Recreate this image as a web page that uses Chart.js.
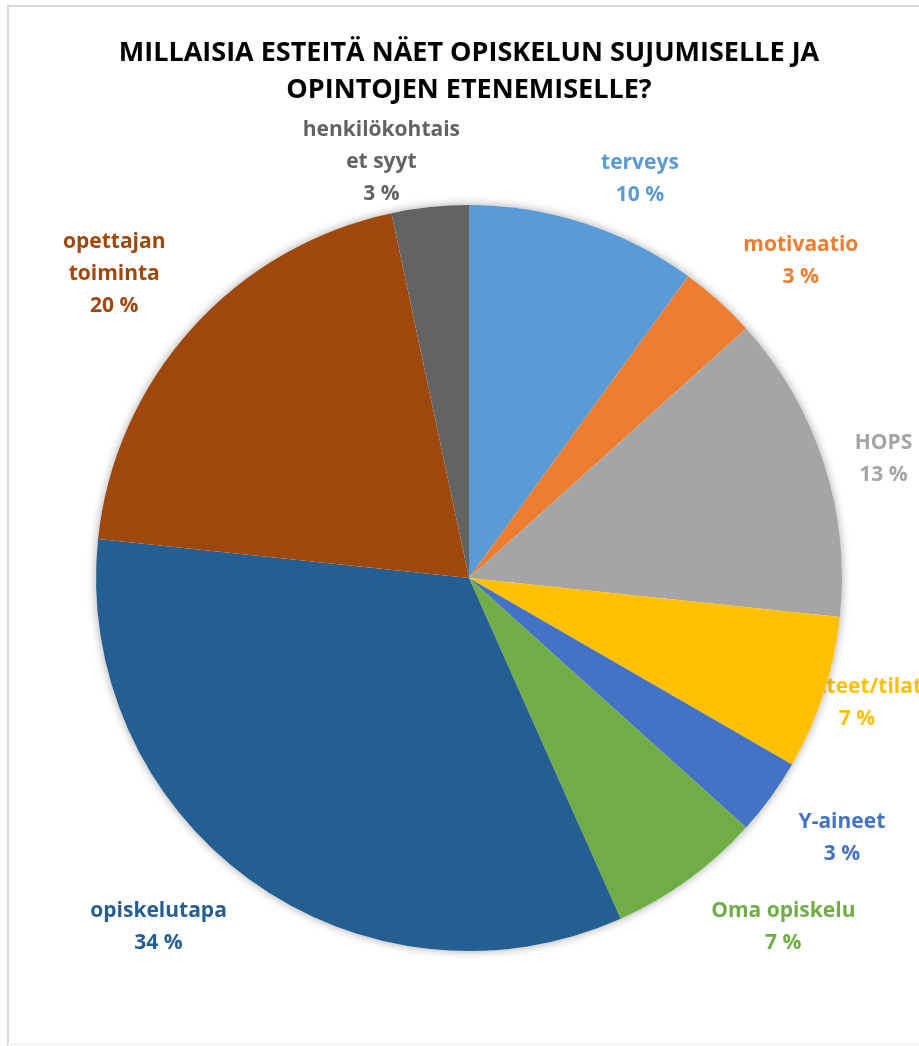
<!DOCTYPE html>
<html><head><meta charset="utf-8">
<script src="https://cdn.jsdelivr.net/npm/chart.js@4/dist/chart.umd.min.js"></script>
<style>html,body{margin:0;padding:0;background:#fff;} canvas{display:block;}</style>
</head><body>
<canvas id="c" width="919" height="1046"></canvas>
<script>
const categories = ['terveys','motivaatio','HOPS','laitteet/tilat','Y-aineet','Oma opiskelu','opiskelutapa','opettajan toiminta','henkilökohtaiset syyt'];
const labelLines = [['terveys'],['motivaatio'],['HOPS'],['laitteet/tilat'],['Y-aineet'],['Oma opiskelu'],['opiskelutapa'],['opettajan','toiminta'],['henkilökohtais','et syyt']];
const values = [3,1,4,2,1,2,10,6,1];
const percentLabels = ['10 %','3 %','13 %','7 %','3 %','7 %','34 %','20 %','3 %'];
const titleLines = ['MILLAISIA ESTEITÄ NÄET OPISKELUN SUJUMISELLE JA','OPINTOJEN ETENEMISELLE?'];
const colors = ['#5B9BD5','#ED7D31','#A5A5A5','#FFC000','#4472C4','#70AD47','#255E91','#9E480E','#636363'];

const frame = {
  id:'frame',
  beforeDraw(chart){
    const ctx = chart.ctx;
    ctx.save();
    ctx.strokeStyle = '#d9d9d9'; ctx.lineWidth = 2;
    ctx.beginPath();
    ctx.moveTo(8, chart.height); ctx.lineTo(8, 6); ctx.lineTo(chart.width, 6);
    ctx.stroke();
    ctx.strokeStyle = '#f3f3f3';
    ctx.beginPath(); ctx.moveTo(8, chart.height-2); ctx.lineTo(chart.width, chart.height-2); ctx.stroke();
    ctx.restore();
  }
};

const outsideLabels = {
  id:'outsideLabels',
  beforeDatasetsDraw(chart, args, opts){
    const ctx = chart.ctx;
    const meta = chart.getDatasetMeta(0);
    const tOpts = chart.options.plugins.title;
    const titleTextBottom = chart.titleBlock.top + tOpts.padding.top + titleLines.length * parseFloat(tOpts.font.lineHeight);
    ctx.save();
    ctx.font = 'bold ' + opts.size + 'px ' + opts.family;
    ctx.textAlign = 'center'; ctx.textBaseline = 'middle';
    meta.data.forEach((arc, i) => {
      const p = arc.getProps(['x','y','startAngle','endAngle','outerRadius'], true);
      const mid = (p.startAngle + p.endAngle) / 2;
      const dx = Math.cos(mid), dy = Math.sin(mid);
      const lines = [...labelLines[i], percentLabels[i]];
      const w = Math.max(...lines.map(l => ctx.measureText(l).width));
      const halfW = w / 2, halfH = (lines.length - 1) * opts.lineHeight / 2 + opts.size * 0.5;
      const fx = Math.min(1, Math.abs(dx) * opts.kx);
      const fy = Math.max(0, Math.min(1, (Math.abs(dy) - opts.deadY) * opts.ky));
      let cx = p.x + dx * (p.outerRadius + opts.gap) + Math.sign(dx) * (halfW + opts.gapX) * fx;
      let cy = p.y + dy * (p.outerRadius + opts.gap) + Math.sign(dy) * halfH * fy + opts.nudgeY;
      cx = Math.min(cx, chart.width + opts.overflow - halfW);
      cy = Math.max(cy, titleTextBottom + opts.titleGap + halfH);
      ctx.fillStyle = colors[i];
      lines.forEach((l, j) => ctx.fillText(l, cx, cy - (lines.length - 1) * opts.lineHeight / 2 + j * opts.lineHeight));
    });
    const a = meta.data[0];
    ctx.beginPath(); ctx.arc(a.x, a.y, a.outerRadius, 0, Math.PI * 2);
    ctx.shadowColor = 'rgba(0,0,0,0.35)'; ctx.shadowBlur = 10; ctx.fillStyle = '#fff'; ctx.fill();
    ctx.restore();
  }
};

new Chart(document.getElementById('c'), {
  type: 'pie',
  data: {
    labels: categories,
    datasets: [{ data: values, backgroundColor: colors, borderWidth: 0, hoverOffset: 0, offset: 0 }]
  },
  options: {
    responsive: false,
    animation: false,
    events: [],
    layout: { padding: { left: 96, right: 77, top: 0, bottom: 95 } },
    plugins: {
      legend: { display: false },
      tooltip: { enabled: false },
      title: {
        display: true, text: titleLines, color: '#000',
        font: { family: "'Open Sans'", size: 27, weight: 'bold', lineHeight: '37px' },
        padding: { top: 35, bottom: 96 }
      },
      outsideLabels: { size: 21, family: "'Open Sans'", lineHeight: 32, gap: 22, gapX: 10, kx: 5, ky: 4, deadY: 0.35, nudgeY: 3, overflow: 3, titleGap: 11 }
    }
  },
  plugins: [frame, outsideLabels]
});
</script>
</body></html>
